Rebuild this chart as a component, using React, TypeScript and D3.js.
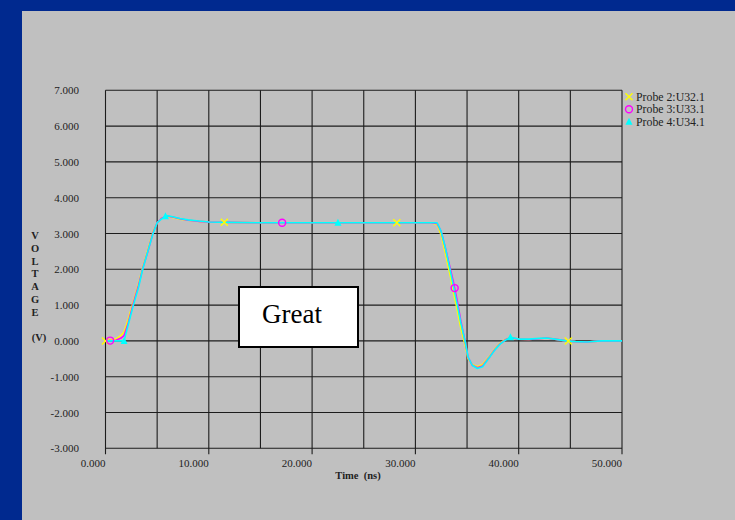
import { useEffect, useRef } from "react";
import * as d3 from "d3";

const timeNs = [
  0, 1.0, 1.5, 1.8, 2.2, 2.7, 3.2, 3.6, 4.1, 4.6, 5.0, 5.4, 5.9, 6.5, 7.2, 8.0, 9.0, 10, 12, 15, 20, 25, 30,
  31.5, 32.1, 32.5, 32.9, 33.35, 33.7, 34.06, 34.4, 34.8, 35.1, 35.5, 36.0, 36.5, 37.2, 37.7, 38.2, 38.7, 39.2,
  40, 41, 42, 42.7, 43.5, 44.6, 45.5, 46.6, 48, 50,
];

const probe2 = [
  0, 0.05, 0.15, 0.25, 0.6, 1.1, 1.6, 2.05, 2.55, 3.05, 3.3, 3.42, 3.48, 3.45, 3.4, 3.37, 3.34, 3.32, 3.31, 3.3, 3.3, 3.3, 3.3,
  3.3, 3.25, 2.95, 2.45, 1.85, 1.35, 0.85, 0.35, -0.1, -0.5, -0.66, -0.72, -0.66, -0.42, -0.22, -0.06, 0.04, 0.09,
  0.05, 0.04, 0.06, 0.08, 0.05, 0.0, -0.02, -0.03, 0, 0,
];

const probe3 = [
  0, 0.02, 0.08, 0.15, 0.5, 1.05, 1.55, 2.02, 2.5, 3.02, 3.3, 3.42, 3.49, 3.46, 3.41, 3.37, 3.34, 3.32, 3.31, 3.3, 3.3, 3.3, 3.3,
  3.3, 3.28, 3.05, 2.6, 2.05, 1.62, 1.1, 0.55, 0.0, -0.46, -0.68, -0.75, -0.7, -0.44, -0.24, -0.08, 0.03, 0.09,
  0.05, 0.04, 0.06, 0.08, 0.05, 0.0, -0.02, -0.03, 0, 0,
];

const probe4 = [
  0, 0, 0, 0, 0.45, 1.0, 1.5, 2.0, 2.5, 3.0, 3.3, 3.4, 3.5, 3.47, 3.42, 3.38, 3.35, 3.32, 3.31, 3.3, 3.3, 3.3, 3.3,
  3.3, 3.3, 3.05, 2.6, 2.0, 1.5, 1.0, 0.5, 0.0, -0.45, -0.68, -0.77, -0.72, -0.45, -0.25, -0.09, 0.02, 0.1,
  0.05, 0.05, 0.07, 0.08, 0.05, 0.0, -0.02, -0.03, 0, 0,
];

// marker positions along each trace (ns)
const probe2Marks = [0, 11.5, 28.2, 44.8];
const probe3Marks = [0.45, 17.1, 33.8];
const probe4Marks = [1.8, 5.8, 22.5, 39.2];

const seriesNames = ["Probe 2:U32.1", "Probe 3:U33.1", "Probe 4:U34.1"];
const seriesColors = ["#ffff00", "#ff00ff", "#00ffff"];

const yTicks = [7, 6, 5, 4, 3, 2, 1, 0, -1, -2, -3];
const xTicks = [0, 10, 20, 30, 40, 50];
const xGrid = [0, 5, 10, 15, 20, 25, 30, 35, 40, 45, 50];
const yAxisLetters = ["V", "O", "L", "T", "A", "G", "E"];

const FONT = "'Liberation Serif', 'Times New Roman', serif";

export default function App() {
  const svgRef = useRef<SVGSVGElement | null>(null);

  useEffect(() => {
    if (!svgRef.current) return;
    const width = 735;
    const height = 520;
    const left = 105.5;
    const right = 622;
    const top = 90.3;
    const bottom = 448.3;

    const svg = d3.select(svgRef.current);
    svg.selectAll("*").remove();

    // slide background
    svg.append("rect").attr("width", width).attr("height", height).attr("fill", "#00298f");
    svg.append("rect").attr("x", 22).attr("y", 11).attr("width", width - 22).attr("height", height - 11).attr("fill", "#c0c0c0");

    const x = d3.scaleLinear().domain([0, 50]).range([left, right]);
    const y = d3.scaleLinear().domain([-3, 7]).range([bottom, top]);

    // grid
    const grid = svg.append("g").attr("stroke", "#1c1c1c").attr("stroke-width", 1.1);
    grid
      .selectAll("line.v")
      .data(xGrid)
      .join("line")
      .attr("x1", (d: number) => x(d))
      .attr("x2", (d: number) => x(d))
      .attr("y1", top)
      .attr("y2", (d: number) => (d % 10 === 0 ? bottom + 6 : bottom));
    grid
      .selectAll("line.h")
      .data(yTicks)
      .join("line")
      .attr("x1", left)
      .attr("x2", right)
      .attr("y1", (d: number) => y(d))
      .attr("y2", (d: number) => y(d));

    // tick labels
    svg
      .append("g")
      .selectAll("text")
      .data(yTicks)
      .join("text")
      .attr("x", 79)
      .attr("y", (d: number) => y(d) + 4)
      .attr("text-anchor", "end")
      .attr("font-family", FONT)
      .attr("font-size", 11)
      .attr("fill", "#222")
      .text((d: number) => d.toFixed(3));

    svg
      .append("g")
      .selectAll("text")
      .data(xTicks)
      .join("text")
      .attr("x", (d: number) => x(d))
      .attr("y", 467)
      .attr("text-anchor", "end")
      .attr("font-family", FONT)
      .attr("font-size", 11)
      .attr("fill", "#222")
      .text((d: number) => d.toFixed(3));

    svg
      .append("text")
      .attr("x", 358)
      .attr("y", 479)
      .attr("text-anchor", "middle")
      .attr("font-family", FONT)
      .attr("font-size", 10.5)
      .attr("font-weight", "bold")
      .attr("fill", "#222")
      .attr("xml:space", "preserve")
      .text("Time  (ns)");

    // vertical axis title, stacked letters
    svg
      .append("g")
      .selectAll("text")
      .data(yAxisLetters)
      .join("text")
      .attr("x", 35)
      .attr("y", (_: string, i: number) => 239 + i * 12.8)
      .attr("text-anchor", "middle")
      .attr("font-family", FONT)
      .attr("font-size", 10.5)
      .attr("font-weight", "bold")
      .attr("fill", "#222")
      .text((d: string) => d);
    svg
      .append("text")
      .attr("x", 39)
      .attr("y", 341)
      .attr("text-anchor", "middle")
      .attr("font-family", FONT)
      .attr("font-size", 10.5)
      .attr("font-weight", "bold")
      .attr("fill", "#222")
      .text("(V)");

    // traces
    const series = [probe2, probe3, probe4];
    const marks = [probe2Marks, probe3Marks, probe4Marks];
    const line = d3
      .line<number>()
      .x((_: number, i: number) => x(timeNs[i]))
      .y((d: number) => y(d));

    series.forEach((vals, k) => {
      svg
        .append("path")
        .datum(vals)
        .attr("fill", "none")
        .attr("stroke", seriesColors[k])
        .attr("stroke-width", 1.6)
        .attr("stroke-linejoin", "round")
        .attr("d", line);
    });

    const drawMarker = (g: any, k: number, cx: number, cy: number) => {
      const c = seriesColors[k];
      if (k === 0) {
        g.append("path")
          .attr("d", `M${cx - 3.5},${cy - 3.5}L${cx + 3.5},${cy + 3.5}M${cx - 3.5},${cy + 3.5}L${cx + 3.5},${cy - 3.5}`)
          .attr("stroke", c)
          .attr("stroke-width", 1.4)
          .attr("fill", "none");
      } else if (k === 1) {
        g.append("circle")
          .attr("cx", cx)
          .attr("cy", cy)
          .attr("r", 3.5)
          .attr("stroke", c)
          .attr("stroke-width", 1.4)
          .attr("fill", "none");
      } else {
        g.append("path")
          .attr("d", `M${cx},${cy - 4}L${cx + 3.5},${cy + 3}L${cx - 3.5},${cy + 3}Z`)
          .attr("fill", c);
      }
    };

    const mg = svg.append("g");
    marks.forEach((ts, k) => {
      ts.forEach((t) => {
        const v = d3.scaleLinear().domain(timeNs).range(series[k])(t);
        drawMarker(mg, k, x(t), y(v));
      });
    });

    // legend
    seriesNames.forEach((name, k) => {
      const ly = 96.7 + k * 12.5;
      drawMarker(svg, k, 629, ly);
      svg
        .append("text")
        .attr("x", 636)
        .attr("y", ly + 4)
        .attr("font-family", FONT)
        .attr("font-size", 11.8)
        .attr("fill", "#222")
        .text(name);
    });

    // annotation box
    svg
      .append("rect")
      .attr("x", 239)
      .attr("y", 287)
      .attr("width", 119)
      .attr("height", 60)
      .attr("fill", "#ffffff")
      .attr("stroke", "#000")
      .attr("stroke-width", 2);
    svg
      .append("text")
      .attr("x", 262)
      .attr("y", 323)
      .attr("font-family", FONT)
      .attr("font-size", 27)
      .attr("fill", "#000")
      .text("Great");
  }, []);

  return (
    <svg
      ref={svgRef}
      width={735}
      height={520}
      style={{ position: "absolute", left: 0, top: 0 }}
    ></svg>
  );
}
